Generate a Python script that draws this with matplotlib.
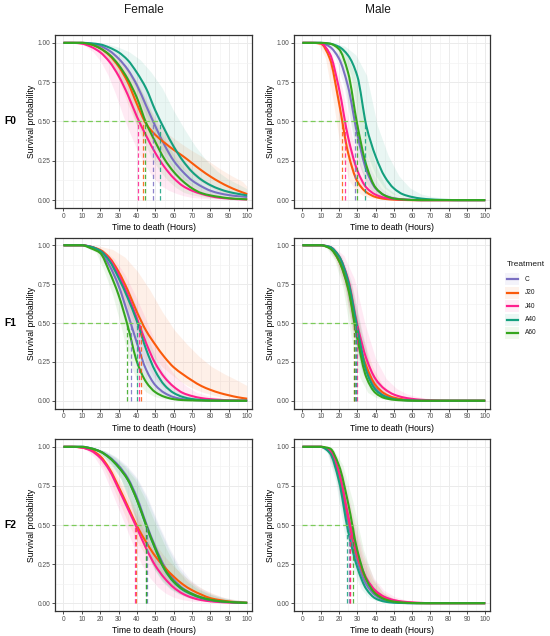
import matplotlib

matplotlib.use("Agg")
import matplotlib.pyplot as plt
import numpy as np
from matplotlib.lines import Line2D
from matplotlib.patches import PathPatch, Rectangle
from matplotlib.path import Path
from matplotlib.ticker import MultipleLocator

plt.rcParams["font.family"] = ["Liberation Sans", "DejaVu Sans"]

HOURS = list(range(0, 101, 5))
TREATMENTS = ["C", "J20", "J40", "A40", "A60"]
COLORS = {"C": "#7A6FC2", "J20": "#FA5A0A", "J40": "#FF1F8E", "A40": "#14A07E", "A60": "#35A61E"}

# survival probability at HOURS
SURV_F0_FEMALE = {
    "C":   [1, 1, 1, 0.995, 0.98, 0.95, 0.90, 0.83, 0.73, 0.60, 0.47, 0.35, 0.25, 0.18, 0.125, 0.088, 0.06, 0.043, 0.032, 0.025, 0.02],
    "J20": [1, 1, 1, 0.99, 0.965, 0.92, 0.85, 0.75, 0.61, 0.485, 0.415, 0.365, 0.32, 0.28, 0.235, 0.19, 0.15, 0.115, 0.085, 0.06, 0.038],
    "J40": [1, 1, 0.995, 0.975, 0.94, 0.88, 0.79, 0.67, 0.53, 0.41, 0.30, 0.21, 0.14, 0.09, 0.06, 0.04, 0.025, 0.015, 0.01, 0.006, 0.004],
    "A40": [1, 1, 1, 0.997, 0.99, 0.97, 0.94, 0.89, 0.81, 0.71, 0.57, 0.45, 0.34, 0.25, 0.18, 0.13, 0.095, 0.07, 0.052, 0.04, 0.03],
    "A60": [1, 1, 1, 0.99, 0.965, 0.925, 0.86, 0.77, 0.65, 0.49, 0.37, 0.26, 0.18, 0.12, 0.075, 0.045, 0.03, 0.02, 0.012, 0.008, 0.005],
}
SURV_F0_MALE = {
    "C":   [1, 1, 1, 0.975, 0.90, 0.72, 0.42, 0.19, 0.075, 0.03, 0.012, 0.005, 0.002, 0, 0, 0, 0, 0, 0, 0, 0],
    "J20": [1, 1, 0.995, 0.90, 0.62, 0.30, 0.12, 0.05, 0.02, 0.008, 0.003, 0.001, 0, 0, 0, 0, 0, 0, 0, 0, 0],
    "J40": [1, 1, 0.998, 0.93, 0.71, 0.40, 0.19, 0.08, 0.035, 0.015, 0.007, 0.003, 0.001, 0, 0, 0, 0, 0, 0, 0, 0],
    "A40": [1, 1, 1, 0.995, 0.975, 0.92, 0.79, 0.47, 0.28, 0.15, 0.075, 0.037, 0.02, 0.01, 0.005, 0.002, 0.001, 0, 0, 0, 0],
    "A60": [1, 1, 1, 0.995, 0.96, 0.81, 0.48, 0.22, 0.08, 0.03, 0.01, 0.004, 0.001, 0, 0, 0, 0, 0, 0, 0, 0],
}
SURV_F1_FEMALE = {
    "C":   [1, 1, 1, 0.99, 0.96, 0.87, 0.74, 0.56, 0.37, 0.20, 0.10, 0.05, 0.023, 0.01, 0.005, 0.002, 0.001, 0, 0, 0, 0],
    "J20": [1, 1, 1, 0.99, 0.97, 0.92, 0.83, 0.71, 0.57, 0.45, 0.36, 0.28, 0.215, 0.17, 0.13, 0.095, 0.07, 0.05, 0.035, 0.022, 0.013],
    "J40": [1, 1, 1, 0.99, 0.965, 0.91, 0.81, 0.68, 0.53, 0.37, 0.24, 0.15, 0.09, 0.05, 0.03, 0.017, 0.01, 0.006, 0.003, 0.002, 0.001],
    "A40": [1, 1, 1, 0.99, 0.965, 0.90, 0.79, 0.66, 0.51, 0.33, 0.19, 0.10, 0.05, 0.024, 0.011, 0.005, 0.002, 0.001, 0, 0, 0],
    "A60": [1, 1, 1, 0.98, 0.95, 0.83, 0.68, 0.48, 0.25, 0.12, 0.055, 0.025, 0.01, 0.004, 0.002, 0.001, 0, 0, 0, 0, 0],
}
SURV_F1_MALE = {
    "C":   [1, 1, 1, 0.985, 0.91, 0.74, 0.44, 0.20, 0.08, 0.03, 0.012, 0.005, 0.002, 0, 0, 0, 0, 0, 0, 0, 0],
    "J20": [1, 1, 1, 0.985, 0.90, 0.73, 0.42, 0.22, 0.10, 0.045, 0.02, 0.009, 0.004, 0.002, 0, 0, 0, 0, 0, 0, 0],
    "J40": [1, 1, 1, 0.99, 0.93, 0.78, 0.49, 0.27, 0.14, 0.075, 0.04, 0.022, 0.012, 0.006, 0.003, 0.001, 0, 0, 0, 0, 0],
    "A40": [1, 1, 1, 0.99, 0.93, 0.77, 0.47, 0.19, 0.07, 0.028, 0.011, 0.004, 0.002, 0, 0, 0, 0, 0, 0, 0, 0],
    "A60": [1, 1, 1, 0.98, 0.90, 0.72, 0.40, 0.15, 0.05, 0.017, 0.006, 0.002, 0, 0, 0, 0, 0, 0, 0, 0, 0],
}
SURV_F2_FEMALE = {
    "C":   [1, 1, 1, 0.99, 0.97, 0.935, 0.88, 0.80, 0.675, 0.51, 0.36, 0.235, 0.15, 0.095, 0.06, 0.037, 0.022, 0.013, 0.008, 0.004, 0.002],
    "J20": [1, 1, 0.995, 0.98, 0.94, 0.86, 0.745, 0.62, 0.495, 0.39, 0.30, 0.23, 0.17, 0.12, 0.083, 0.055, 0.032, 0.02, 0.011, 0.006, 0.003],
    "J40": [1, 1, 0.995, 0.975, 0.93, 0.85, 0.73, 0.605, 0.48, 0.35, 0.24, 0.16, 0.10, 0.06, 0.035, 0.02, 0.012, 0.007, 0.004, 0.002, 0.001],
    "A40": [1, 1, 1, 0.99, 0.97, 0.93, 0.87, 0.79, 0.66, 0.495, 0.345, 0.215, 0.135, 0.085, 0.055, 0.033, 0.02, 0.012, 0.007, 0.004, 0.002],
    "A60": [1, 1, 1, 0.99, 0.97, 0.93, 0.87, 0.79, 0.66, 0.50, 0.35, 0.22, 0.14, 0.09, 0.06, 0.037, 0.022, 0.013, 0.008, 0.004, 0.002],
}
SURV_F2_MALE = {
    "C":   [1, 1, 1, 0.97, 0.81, 0.52, 0.27, 0.12, 0.05, 0.018, 0.006, 0.002, 0, 0, 0, 0, 0, 0, 0, 0, 0],
    "J20": [1, 1, 1, 0.975, 0.83, 0.55, 0.30, 0.15, 0.07, 0.03, 0.012, 0.005, 0.002, 0, 0, 0, 0, 0, 0, 0, 0],
    "J40": [1, 1, 1, 0.975, 0.84, 0.56, 0.31, 0.16, 0.08, 0.04, 0.02, 0.01, 0.005, 0.002, 0, 0, 0, 0, 0, 0, 0],
    "A40": [1, 1, 1, 0.96, 0.78, 0.46, 0.23, 0.09, 0.03, 0.01, 0.003, 0.001, 0, 0, 0, 0, 0, 0, 0, 0, 0],
    "A60": [1, 1, 1, 0.99, 0.88, 0.64, 0.34, 0.15, 0.06, 0.025, 0.01, 0.004, 0.001, 0, 0, 0, 0, 0, 0, 0, 0],
}

# median survival time (hours), the dashed drop lines
MEDIAN_F0_FEMALE = {"C": 48.5, "J20": 43.1, "J40": 40.8, "A40": 52.5, "A60": 44.4}
MEDIAN_F0_MALE = {"C": 28.5, "J20": 21.9, "J40": 23.2, "A40": 34.3, "A60": 29.7}
MEDIAN_F1_FEMALE = {"C": 36.8, "J20": 42.4, "J40": 41.3, "A40": 40.2, "A60": 34.4}
MEDIAN_F1_MALE = {"C": 28.8, "J20": 28.4, "J40": 29.8, "A40": 29.5, "A60": 28.0}
MEDIAN_F2_FEMALE = {"C": 45.3, "J20": 39.7, "J40": 39.1, "A40": 44.9, "A60": 45.0}
MEDIAN_F2_MALE = {"C": 25.3, "J20": 26.0, "J40": 26.3, "A40": 24.2, "A60": 27.6}

# confidence band as time factors (lower, upper) around each curve
BAND_F0_FEMALE = {"C": (0.9, 1.1), "J20": (0.88, 1.15), "J40": (0.82, 1.1), "A40": (0.88, 1.2), "A60": (0.88, 1.12)}
BAND_F0_MALE = {"C": (0.92, 1.08), "J20": (0.86, 1.08), "J40": (0.9, 1.1), "A40": (0.9, 1.18), "A60": (0.9, 1.15)}
BAND_F1_FEMALE = {"C": (0.92, 1.08), "J20": (0.9, 1.35), "J40": (0.9, 1.12), "A40": (0.92, 1.08), "A60": (0.9, 1.08)}
BAND_F1_MALE = {"C": (0.93, 1.08), "J20": (0.93, 1.1), "J40": (0.92, 1.15), "A40": (0.93, 1.08), "A60": (0.9, 1.08)}
BAND_F2_FEMALE = {"C": (0.9, 1.15), "J20": (0.9, 1.1), "J40": (0.86, 1.08), "A40": (0.9, 1.15), "A60": (0.9, 1.12)}
BAND_F2_MALE = {"C": (0.92, 1.1), "J20": (0.92, 1.1), "J40": (0.92, 1.12), "A40": (0.92, 1.1), "A60": (0.9, 1.12)}

ROWS = ["F0", "F1", "F2"]
COLS = ["Female", "Male"]
PANELS = {
    ("F0", "Female"): (SURV_F0_FEMALE, MEDIAN_F0_FEMALE, BAND_F0_FEMALE),
    ("F0", "Male"): (SURV_F0_MALE, MEDIAN_F0_MALE, BAND_F0_MALE),
    ("F1", "Female"): (SURV_F1_FEMALE, MEDIAN_F1_FEMALE, BAND_F1_FEMALE),
    ("F1", "Male"): (SURV_F1_MALE, MEDIAN_F1_MALE, BAND_F1_MALE),
    ("F2", "Female"): (SURV_F2_FEMALE, MEDIAN_F2_FEMALE, BAND_F2_FEMALE),
    ("F2", "Male"): (SURV_F2_MALE, MEDIAN_F2_MALE, BAND_F2_MALE),
}

W, H = 550, 636
ROW_PX = [(35, 208), (237.5, 408.5), (439, 611)]
COL_PX = [(55, 252), (294, 490)]
TEXT = "#4D4D4D"


def smooth_path(x, y):
    """Monotone cubic Bezier through the read points (drawing only)."""
    x = np.asarray(x, float)
    y = np.asarray(y, float)
    h = np.diff(x)
    d = np.diff(y) / h
    m = np.zeros_like(y)
    m[0], m[-1] = d[0], d[-1]
    for k in range(1, len(y) - 1):
        if d[k - 1] * d[k] > 0:
            m[k] = 2 / (1 / d[k - 1] + 1 / d[k])
    verts = [(x[0], y[0])]
    codes = [Path.MOVETO]
    for k in range(len(h)):
        verts += [(x[k] + h[k] / 3, y[k] + m[k] * h[k] / 3),
                  (x[k + 1] - h[k] / 3, y[k + 1] - m[k + 1] * h[k] / 3),
                  (x[k + 1], y[k + 1])]
        codes += [Path.CURVE4] * 3
    return Path(verts, codes)


def draw_panel(ax, surv, medians, bands):
    t = np.array(HOURS, dtype=float)
    for name in TREATMENTS:
        s = np.array(surv[name])
        lo, hi = bands[name]
        xs = np.concatenate([np.clip(t * hi, 0, 100), np.clip(t * lo, 0, 100)[::-1]])
        ys = np.concatenate([s, s[::-1]])
        ax.fill(xs, ys, color=COLORS[name], alpha=0.09, lw=0, zorder=1)
    for name in TREATMENTS:
        ax.add_patch(PathPatch(smooth_path(HOURS, surv[name]), fill=False,
                               edgecolor=COLORS[name], lw=1.5, zorder=3,
                               capstyle="butt", joinstyle="round"))
    for name in TREATMENTS:
        ax.plot([medians[name]] * 2, [0, 0.5], color=COLORS[name], lw=0.9,
                dashes=(3.5, 2.2), alpha=0.85, zorder=4)
    ax.plot([0, max(medians.values())], [0.5, 0.5], color="#7CCB5A", lw=0.9,
            dashes=(4, 2.5), zorder=4)

    ax.set_xlim(-4.6, 102.6)
    ax.set_ylim(-0.05, 1.05)
    ax.xaxis.set_major_locator(MultipleLocator(10))
    ax.xaxis.set_minor_locator(MultipleLocator(5))
    ax.yaxis.set_major_locator(MultipleLocator(0.25))
    ax.yaxis.set_minor_locator(MultipleLocator(0.125))
    ax.yaxis.set_major_formatter(lambda v, _: f"{v:.2f}")
    ax.grid(which="major", color="#EBEBEB", lw=0.7)
    ax.grid(which="minor", color="#F2F2F2", lw=0.45)
    ax.set_axisbelow(True)
    ax.tick_params(which="major", length=2.2, width=0.6, color="#333333",
                   labelsize=4.8, labelcolor=TEXT, pad=1.2)
    ax.tick_params(which="minor", length=0)
    for sp in ax.spines.values():
        sp.set_color("#333333")
        sp.set_linewidth(0.9)
    ax.set_xlabel("Time to death (Hours)", fontsize=6.2, labelpad=2.5)
    ax.set_ylabel("Survival probability", fontsize=6.2, labelpad=0.8)


fig = plt.figure(figsize=(W / 100, H / 100), dpi=100)
for r, row in enumerate(ROWS):
    top, bottom = ROW_PX[r]
    for c, col in enumerate(COLS):
        left, right = COL_PX[c]
        ax = fig.add_axes([left / W, 1 - bottom / H, (right - left) / W, (bottom - top) / H])
        draw_panel(ax, *PANELS[(row, col)])

# overlay in pixel coordinates for titles, row labels and the legend
ov = fig.add_axes([0, 0, 1, 1], zorder=10)
ov.set_xlim(0, W)
ov.set_ylim(H, 0)
ov.axis("off")
ov.patch.set_alpha(0)
ov.text(144, 10, "Female", fontsize=8.6, ha="center", va="center", color="#1A1A1A")
ov.text(378, 10, "Male", fontsize=8.6, ha="center", va="center", color="#1A1A1A")
for r, row in enumerate(ROWS):
    top, bottom = ROW_PX[r]
    ov.text(10.5, (top + bottom) / 2, row, fontsize=7.4, fontweight="bold",
            ha="center", va="center")

ov.text(507, 265, "Treatment", fontsize=6, ha="left", va="center", color="#1A1A1A")
for i, name in enumerate(TREATMENTS):
    y = 279.3 + i * 13.4
    ov.add_patch(Rectangle((505, y - 6), 14, 12, color=COLORS[name], alpha=0.08, lw=0))
    ov.add_line(Line2D([506.5, 517.5], [y, y], color=COLORS[name], lw=1.6))
    ov.text(525, y, name, fontsize=4.7, ha="left", va="center", color="#1A1A1A")

fig.savefig("out.png", dpi=100)
